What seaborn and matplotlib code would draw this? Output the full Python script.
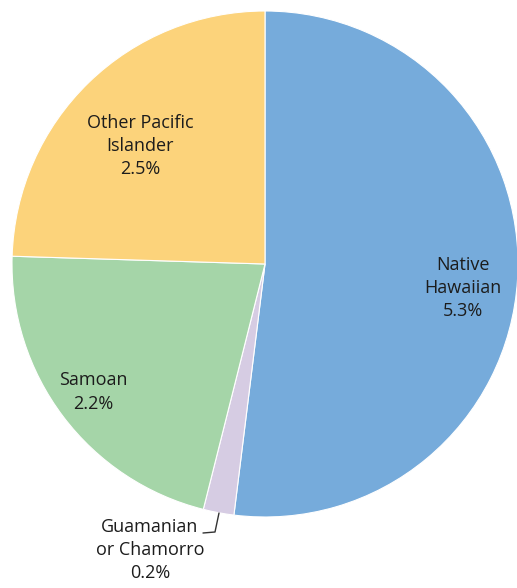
import matplotlib
matplotlib.use("Agg")
import matplotlib.pyplot as plt
import seaborn as sns

categories = ["Native\nHawaiian", "Guamanian\nor Chamorro", "Samoan", "Other Pacific\nIslander"]
values = [5.3, 0.2, 2.2, 2.5]
pct_labels = ["5.3%", "0.2%", "2.2%", "2.5%"]
colors = sns.color_palette(["#76ABDB", "#D6CCE3", "#A5D5A8", "#FCD37B"])

sns.set_theme(style="white")
plt.rcParams['font.family'] = ['Open Sans', 'DejaVu Sans']

W, H = 517, 588
fig = plt.figure(figsize=(W / 100, H / 100), dpi=100)
ax = fig.add_axes([0, 0, 1, 1])
cx, cy, r = 265, H - 264, 253
ax.pie(values, colors=colors, startangle=90, counterclock=False,
       center=(cx, cy), radius=r, frame=True,
       wedgeprops=dict(edgecolor="white", linewidth=0.8))
ax.set_xlim(0, W)
ax.set_ylim(0, H)
ax.set_aspect("equal")
ax.axis("off")

tc = "#1c1c1c"
fs = 13
pos = [(463, 288), (150, 550), (93, 392), (140, 146)]
for (x, y), c, p in zip(pos, categories, pct_labels):
    ax.text(x, H - y, c + "\n" + p, ha="center", va="center", fontsize=fs,
            color=tc, linespacing=1.38)

# leader line for small slice
ax.plot([203, 215, 219], [H - 533, H - 532, H - 513], color="#333333", lw=1)

fig.savefig("out.png", dpi=100)
